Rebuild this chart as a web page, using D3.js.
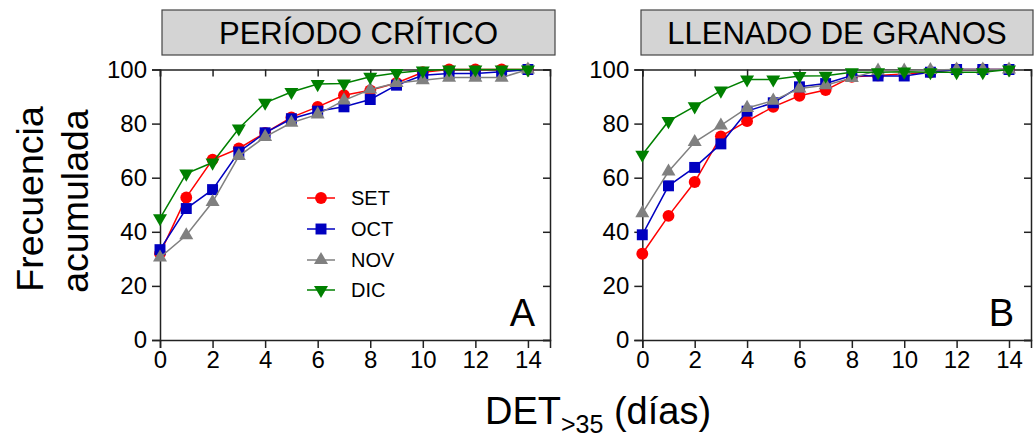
<!DOCTYPE html>
<html><head><meta charset="utf-8">
<script src="https://cdn.jsdelivr.net/npm/d3@7"></script>
<style>body{margin:0;background:#fff}svg{display:block;font-family:"Liberation Sans",Arial,sans-serif}</style>
</head><body><svg id="c" width="1035" height="441"></svg>
<script>
const days = [0,1,2,3,4,5,6,7,8,9,10,11,12,13,14];
const seriesNames = ["SET","OCT","NOV","DIC"];
const panelTitles = ["PERÍODO CRÍTICO","LLENADO DE GRANOS"];
const panelLetters = ["A","B"];
const yTicks = [0,20,40,60,80,100];
const xTicks = [0,2,4,6,8,10,12,14];
// Panel A
const setA = [32,52.7,66.7,70.8,76.6,82.3,86.2,90.5,92.3,95,99,100,100,100,100];
const octA = [33.4,48.6,55.6,69.5,76.6,81.8,84.6,86.2,88.9,94.2,97.9,98.5,98.5,99.2,100];
const novA = [30.5,38.7,51,68,75.1,80.3,83.4,88.6,92.6,95,96,97,97,97,100];
const dicA = [45,61.5,65.6,78.2,87.7,91.7,94.6,94.8,97.3,98.7,99.6,100,100,100,100];
// Panel B
const setB = [31.9,45.9,58.4,75.3,80.9,86.2,90.3,92.4,97.3,97.8,98.3,99,100,100,100];
const octB = [38.9,57,63.8,72.5,84.6,87.7,93.6,94.8,97.8,97.6,97.6,99,100,100,100];
const novB = [46.9,62.3,73.2,79.3,85.8,88.5,93,94.2,96.9,99.6,99.6,99.8,100,100,100];
const dicB = [68.5,80.9,86.4,92.2,96.3,96.3,97.6,97.7,99,99,99.2,99,99,99,100];

const colors = ["#ff0000","#0000c0","#808080","#008000"];
const shapes = [d3.symbolCircle,d3.symbolSquare,d3.symbolTriangle,d3.symbolTriangle];
const sizes = [110,120,85,85];
const rots = [0,0,0,180];

const svg = d3.select("#c");
const panels = [
  {x0:160, x1:550, data:[setA,octA,novA,dicA], title:panelTitles[0], letter:panelLetters[0], box:[162,555]},
  {x0:642.3, x1:1031, data:[setB,octB,novB,dicB], title:panelTitles[1], letter:panelLetters[1], box:[641,1033]}
];
const yTop = 69.5, yBot = 340;
const axisColor = "#222";

function sym(g, i, x, y){
  g.append("path")
    .attr("d", d3.symbol().type(shapes[i]).size(sizes[i])())
    .attr("transform", `translate(${x},${y}) rotate(${rots[i]})`)
    .attr("fill", colors[i]);
}

panels.forEach((p, pi) => {
  const x = d3.scaleLinear().domain([0,14.84]).range([p.x0,p.x1]);
  const y = d3.scaleLinear().domain([0,100]).range([yBot,yTop]);
  svg.append("rect").attr("x",p.box[0]).attr("y",10).attr("width",p.box[1]-p.box[0]).attr("height",45)
    .attr("fill","#d4d4d4").attr("stroke","#444").attr("stroke-width",1.2);
  svg.append("text").attr("x",(p.box[0]+p.box[1])/2).attr("y",44).attr("text-anchor","middle")
    .attr("font-size",31).attr("fill","#000").text(p.title);

  const g = svg.append("g");
  const ax = g.append("g").attr("transform",`translate(0,${yBot})`)
    .call(d3.axisBottom(x).tickValues(xTicks).tickSize(8).tickPadding(3).tickFormat(d3.format("d")));
  const ay = g.append("g").attr("transform",`translate(${p.x0},0)`)
    .call(d3.axisLeft(y).tickValues(yTicks).tickSize(8).tickPadding(5).tickFormat(d3.format("d")));
  const at = g.append("g").attr("transform",`translate(0,${yTop})`)
    .call(d3.axisTop(x).tickValues(xTicks).tickSize(-7).tickFormat(""));
  const ar = g.append("g").attr("transform",`translate(${p.x1},0)`)
    .call(d3.axisRight(y).tickValues(yTicks).tickSize(-7).tickFormat(""));
  [ax,ay,at,ar].forEach(a => {
    a.selectAll("path").attr("stroke",axisColor).attr("stroke-width",1.5);
    a.selectAll("line").attr("stroke",axisColor).attr("stroke-width",1.5);
    a.selectAll("text").attr("font-size",24).attr("fill","#000").attr("font-family","Liberation Sans, Arial, sans-serif");
  });

  const line = d3.line().x((d,i)=>x(days[i])).y(d=>y(d));
  p.data.forEach((vals, si) => {
    const sg = g.append("g");
    sg.append("path").attr("d", line(vals)).attr("fill","none").attr("stroke",colors[si]).attr("stroke-width",1.5);
    vals.forEach((v,i) => sym(sg, si, x(days[i]), y(v)));
  });

  svg.append("text").attr("x", pi===0?535:1014).attr("y",326).attr("text-anchor","end")
    .attr("font-size",38).attr("fill","#000").text(p.letter);
});

const legY = [198,229,260,290];
seriesNames.forEach((n,i) => {
  const lg = svg.append("g");
  lg.append("line").attr("x1",307).attr("x2",335).attr("y1",legY[i]).attr("y2",legY[i])
    .attr("stroke",colors[i]).attr("stroke-width",1.5);
  sym(lg, i, 321, legY[i]);
  lg.append("text").attr("x",351).attr("y",legY[i]).attr("dy","0.36em").attr("font-size",20).attr("fill","#000").text(n);
});

svg.append("text").attr("transform","translate(43,199) rotate(-90)").attr("text-anchor","middle")
  .attr("font-size",37.5).attr("fill","#000").text("Frecuencia");
svg.append("text").attr("transform","translate(88,201) rotate(-90)").attr("text-anchor","middle")
  .attr("font-size",37.5).attr("fill","#000").text("acumulada");

const xt = svg.append("text").attr("x",598).attr("y",424).attr("text-anchor","middle").attr("font-size",38).attr("fill","#000");
xt.append("tspan").text("DET");
xt.append("tspan").attr("font-size",25).attr("dy",9).text(">35");
xt.append("tspan").attr("dy",-9).text(" (días)");
</script></body></html>
